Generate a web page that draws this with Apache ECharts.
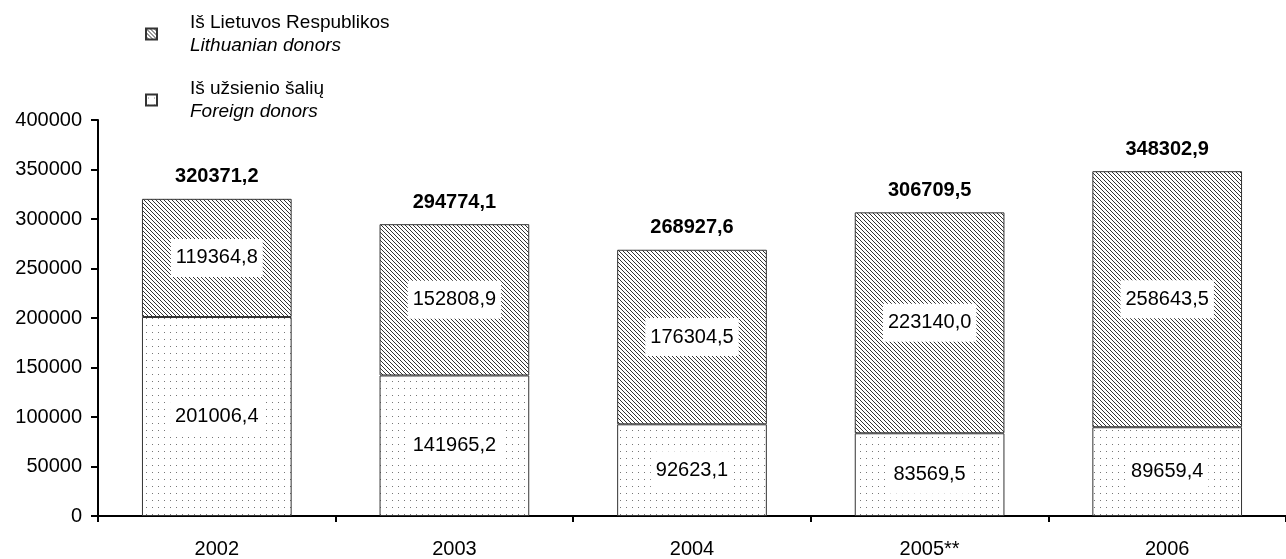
<!DOCTYPE html>
<html>
<head>
<meta charset="utf-8">
<script src="https://cdn.jsdelivr.net/npm/echarts@6/dist/echarts.min.js"></script>
<style>
html,body{margin:0;padding:0;background:#fff;}
#chart{width:1286px;height:559px;}
</style>
</head>
<body>
<div id="chart"></div>
<script>
const categories = ['2002', '2003', '2004', '2005**', '2006'];
const foreignDonors = [201006.4, 141965.2, 92623.1, 83569.5, 89659.4];
const lithuanianDonors = [119364.8, 152808.9, 176304.5, 223140.0, 258643.5];
const yTicks = [0, 50000, 100000, 150000, 200000, 250000, 300000, 350000, 400000];
const legendLithuanian = ['Iš Lietuvos Respublikos', 'Lithuanian donors'];
const legendForeign = ['Iš užsienio šalių', 'Foreign donors'];

const totals = categories.map((c, i) => foreignDonors[i] + lithuanianDonors[i]);
const fmt = v => v.toFixed(1).replace('.', ',');

function hatchPattern() {
  const c = document.createElement('canvas');
  c.width = 4; c.height = 4;
  const g = c.getContext('2d');
  g.fillStyle = '#ffffff'; g.fillRect(0, 0, 4, 4);
  g.strokeStyle = '#333333'; g.lineWidth = 1;
  g.beginPath();
  g.moveTo(-1, -1); g.lineTo(5, 5);
  g.moveTo(3, -1); g.lineTo(5, 1);
  g.moveTo(-1, 3); g.lineTo(1, 5);
  g.stroke();
  return c;
}
function dotPattern() {
  const c = document.createElement('canvas');
  c.width = 6; c.height = 7;
  const g = c.getContext('2d');
  g.fillStyle = '#ffffff'; g.fillRect(0, 0, 6, 7);
  g.fillStyle = '#777777'; g.fillRect(2, 3, 1, 1);
  return c;
}

const FONT = '"Liberation Sans", Arial, sans-serif';
const FS = 20;
const chart = echarts.init(document.getElementById('chart'));
const LT = 'Lithuanian';
const FR = 'Foreign';
chart.setOption({
  animation: false,
  backgroundColor: '#ffffff',
  textStyle: { fontFamily: FONT, color: '#000' },
  legend: {
    data: [LT, FR],
    orient: 'vertical',
    left: 145,
    top: 13,
    padding: 0,
    itemGap: 24,
    itemWidth: 11,
    itemHeight: 11,
    icon: 'rect',
    formatter: name => {
      const t = name === LT ? legendLithuanian : legendForeign;
      return '{a|' + t[0] + '}\n{b|' + t[1] + '}';
    },
    textStyle: {
      rich: {
        a: { fontSize: 19, fontFamily: FONT, color: '#000', lineHeight: 23, padding: [0, 0, 0, 28] },
        b: { fontSize: 19, fontFamily: FONT, color: '#000', fontStyle: 'italic', lineHeight: 23, padding: [0, 0, 0, 28] }
      }
    }
  },
  grid: { left: 98, top: 120, width: 1198, height: 400, containLabel: false },
  xAxis: {
    type: 'category',
    data: categories,
    axisLine: { lineStyle: { color: '#000', width: 2 } },
    axisTick: { show: true, length: 6, lineStyle: { color: '#000', width: 2 } },
    axisLabel: { color: '#000', fontSize: FS, fontFamily: FONT, margin: 23 }
  },
  yAxis: {
    type: 'value',
    min: 0, max: 400000, interval: 50000,
    splitLine: { show: false },
    axisLine: { show: true, lineStyle: { color: '#000', width: 2 } },
    axisTick: { show: true, length: 7, lineStyle: { color: '#000', width: 2 } },
    axisLabel: {
      color: '#000', fontSize: FS, fontFamily: FONT, margin: 16,
      formatter: v => yTicks.indexOf(v) >= 0 ? String(v) : ''
    }
  },
  series: [
    {
      name: FR, type: 'bar', stack: 'a', data: foreignDonors,
      barCategoryGap: '37%',
      itemStyle: { color: { image: dotPattern(), repeat: 'repeat' }, borderColor: '#333', borderWidth: 1 },
      label: {
        show: true, position: 'inside', formatter: p => fmt(p.value),
        backgroundColor: '#fff', padding: [8, 5], lineHeight: 22, color: '#000', fontSize: FS, fontFamily: FONT
      }
    },
    {
      name: LT, type: 'bar', stack: 'a', data: lithuanianDonors,
      barCategoryGap: '37%',
      itemStyle: { color: { image: hatchPattern(), repeat: 'repeat' }, borderColor: '#333', borderWidth: 1 },
      label: {
        show: true, position: 'inside', formatter: p => fmt(p.value),
        backgroundColor: '#fff', padding: [8, 5], lineHeight: 22, color: '#000', fontSize: FS, fontFamily: FONT
      }
    },
    {
      name: 'total', type: 'bar', stack: 'a', data: categories.map(() => 0),
      barCategoryGap: '37%',
      itemStyle: { color: 'rgba(0,0,0,0)', borderWidth: 0 },
      label: {
        show: true, position: 'top', distance: 12,
        formatter: p => fmt(totals[p.dataIndex]),
        color: '#000', fontSize: FS, fontWeight: 'bold', fontFamily: FONT
      }
    }
  ]
});
</script>
</body>
</html>
